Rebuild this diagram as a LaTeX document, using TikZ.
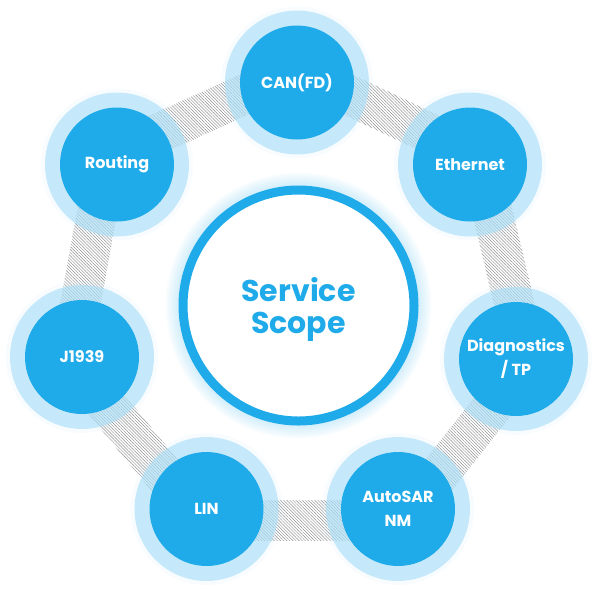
\documentclass[tikz,border=0pt]{standalone}
\usepackage{fontspec}
\setmainfont{Poppins}
\usetikzlibrary{calc,patterns.meta}
\definecolor{dblue}{RGB}{31,170,233}
\definecolor{lblue}{RGB}{170,223,247}
\definecolor{hatchc}{RGB}{140,140,140}
\pgfdeclarelayer{bg}
\pgfdeclarelayer{mid}
\pgfsetlayers{bg,mid,main}
\newcommand\bandAB[2]{%
  \fill[band] ($(#1.center)!9pt!-90:(#2.center)$) -- ($(#2.center)!9pt!90:(#1.center)$)
    -- ($(#2.center)!31pt!-90:(#1.center)$) -- ($(#1.center)!31pt!90:(#2.center)$) -- cycle;}
\newcommand\ringAt[1]{%
  \fill[lblue, opacity=0.08] (#1) circle (76);
  \fill[halo] (#1) circle (72);}
\begin{document}
\begin{tikzpicture}[x=1pt,y=-1pt,
  sat/.style={circle, fill=dblue, minimum size=114pt, inner sep=0pt, text=white,
    font=\bfseries\fontsize{16}{24}\selectfont, align=center},
  core/.style={circle, draw=dblue, line width=9pt, fill=white, minimum size=231pt,
    inner sep=0pt, text=dblue, font=\bfseries\fontsize{30}{32}\selectfont, align=center},
  halo/.style={fill=lblue, fill opacity=0.65},
  band/.style={pattern={Lines[angle=-45,distance=2.2pt,line width=0.45pt]}, pattern color=hatchc}]
\useasboundingbox (0,0) rectangle (597,590);

\node[core] (core) at (298.5,305.5) {};
\node[text=dblue, font=\bfseries\fontsize{30}{32}\selectfont, align=center] (coretext) at (298.5,309) {Service\\Scope};
\node[sat] (can)  at (297,82.5)    {CAN(FD)};
\node[sat] (eth)  at (470,164.5)   {Ethernet};
\node[sat] (diag) at (516,359)     {Diagnostics\\/ TP};
\node[sat] (nm)   at (398,509)     {AutoSAR\\NM};
\node[sat] (lin)  at (206.5,509)   {LIN};
\node[sat] (j19)  at (82,357)      {J1939};
\node[sat] (rout) at (117,164.5)   {Routing};

\begin{pgfonlayer}{bg}
  \bandAB{can}{eth}
  \bandAB{eth}{diag}
  \bandAB{diag}{nm}
  \bandAB{nm}{lin}
  \bandAB{lin}{j19}
  \bandAB{j19}{rout}
  \bandAB{rout}{can}
\end{pgfonlayer}

\begin{pgfonlayer}{mid}
  \foreach \r in {121,122.5,...,133} \fill[dblue, opacity=0.025] (core) circle (\r);
  \ringAt{can}
  \ringAt{eth}
  \ringAt{diag}
  \ringAt{nm}
  \ringAt{lin}
  \ringAt{j19}
  \ringAt{rout}
\end{pgfonlayer}
\end{tikzpicture}
\end{document}
